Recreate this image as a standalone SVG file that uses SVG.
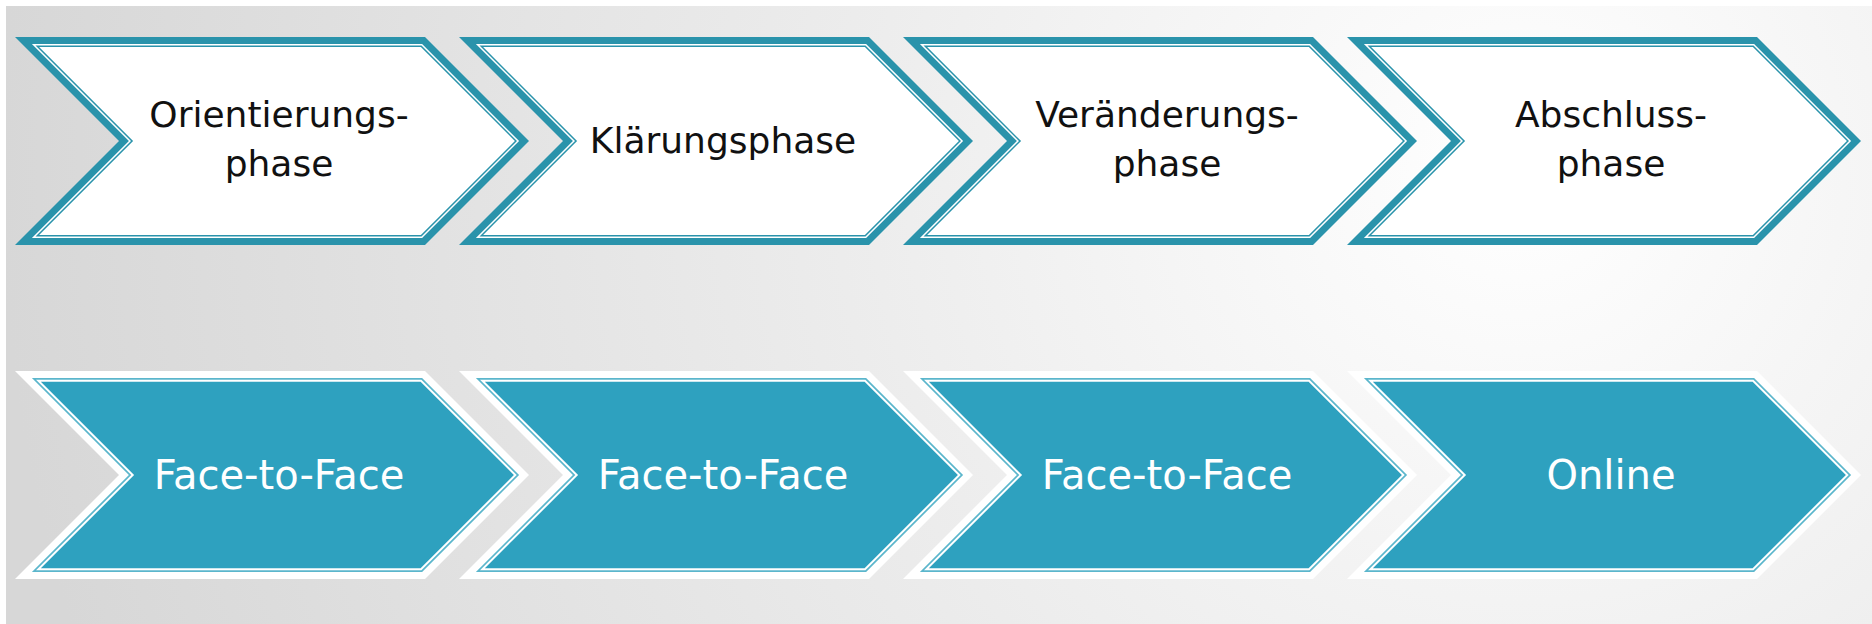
<svg xmlns="http://www.w3.org/2000/svg" xmlns:xlink="http://www.w3.org/1999/xlink" width="1872" height="624" viewBox="0 0 1872 624">
  <style>
    .t1 { font-family: "DejaVu Sans", "Liberation Sans", sans-serif; font-size: 36px; fill: #111111; text-anchor: middle; }
    .t2 { font-family: "DejaVu Sans", "Liberation Sans", sans-serif; font-size: 40px; fill: #ffffff; text-anchor: middle; }
    .teal1 { fill: #2a93ab; }
    .teal2 { fill: #2ea1bf; }
    .thin2 { fill: #5bb6cc; }
    .wh { fill: #ffffff; }
  </style>
  <defs>
    <radialGradient id="bg" gradientUnits="userSpaceOnUse" cx="1520" cy="170" r="1520">
      <stop offset="0" stop-color="#ffffff"/>
      <stop offset="0.45" stop-color="#ececec"/>
      <stop offset="1" stop-color="#d7d7d7"/>
    </radialGradient>
    <g id="shape-top">
      <polygon class="teal1" points="15,37 425,37 529,141 425,245 15,245 119,141"/>
      <polygon class="wh" points="31.9,44 422.1,44 519.1,141 422.1,238 31.9,238 128.9,141"/>
      <polygon class="teal1" points="35.5,45.5 421.5,45.5 517,141 421.5,236.5 35.5,236.5 131,141"/>
      <polygon class="wh" points="39.1,47 420.9,47 514.9,141 420.9,235 39.1,235 133.1,141"/>
    </g>
    <g id="shape-bottom">
      <polygon class="wh" points="15,371 425,371 529,475 425,579 15,579 119,475"/>
      <polygon class="thin2" points="31.9,378 422.1,378 519.1,475 422.1,572 31.9,572 128.9,475"/>
      <polygon class="wh" points="36,379.7 421.4,379.7 516.7,475 421.4,570.3 36,570.3 131.3,475"/>
      <polygon class="teal2" points="40.8,381.7 420.6,381.7 513.9,475 420.6,568.3 40.8,568.3 134.1,475"/>
    </g>
  </defs>
  <rect x="0" y="0" width="1872" height="624" fill="#ffffff"/>
  <rect x="6" y="6" width="1866" height="618" fill="url(#bg)"/>

  <g id="connectors"></g>

  <g id="node-orientierung">
    <use xlink:href="#shape-top" x="0"/>
    <text class="t1" x="279" y="127">Orientierungs-</text>
    <text class="t1" x="279" y="176">phase</text>
  </g>
  <g id="node-klaerung">
    <use xlink:href="#shape-top" x="444"/>
    <text class="t1" x="723" y="153">Klärungsphase</text>
  </g>
  <g id="node-veraenderung">
    <use xlink:href="#shape-top" x="888"/>
    <text class="t1" x="1167" y="127">Veränderungs-</text>
    <text class="t1" x="1167" y="176">phase</text>
  </g>
  <g id="node-abschluss">
    <use xlink:href="#shape-top" x="1332"/>
    <text class="t1" x="1611" y="127">Abschluss-</text>
    <text class="t1" x="1611" y="176">phase</text>
  </g>

  <g id="node-f2f-1">
    <use xlink:href="#shape-bottom" x="0"/>
    <text class="t2" x="279" y="489">Face-to-Face</text>
  </g>
  <g id="node-f2f-2">
    <use xlink:href="#shape-bottom" x="444"/>
    <text class="t2" x="723" y="489">Face-to-Face</text>
  </g>
  <g id="node-f2f-3">
    <use xlink:href="#shape-bottom" x="888"/>
    <text class="t2" x="1167" y="489">Face-to-Face</text>
  </g>
  <g id="node-online">
    <use xlink:href="#shape-bottom" x="1332"/>
    <text class="t2" x="1611" y="489">Online</text>
  </g>
</svg>
